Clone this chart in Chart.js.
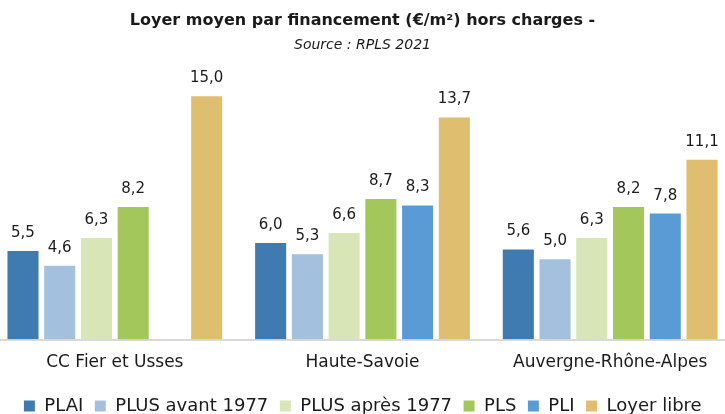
<!DOCTYPE html>
<html lang="fr">
<head>
    <meta charset="UTF-8">
    <title>Loyer moyen par financement</title>
    <script src="https://cdn.jsdelivr.net/npm/chart.js"></script>
    <style>
        body {
            margin: 0;
            padding: 0;
            background: #fff;
            overflow: hidden;
        }

        /* un peu plus large que la fenêtre : les groupes débordent légèrement des bords */
        .chart-box {
            position: relative;
            width: 743px;
            height: 414px;
            margin-left: -9px;
        }
    </style>
</head>
<body>
    <div class="chart-box">
        <canvas id="loyers"></canvas>
    </div>

    <script>
        const territoires = ['CC Fier et Usses', 'Haute-Savoie', 'Auvergne-Rhône-Alpes'];
        const financements = ['PLAI', 'PLUS avant 1977', 'PLUS après 1977', 'PLS', 'PLI', 'Loyer libre'];
        const couleurs = ['#3f7ab1', '#a3c1de', '#d8e6b7', '#a4c75b', '#5b9bd5', '#e0be70'];

        const plai = [5.5, 6.0, 5.6];
        const plusAvant1977 = [4.6, 5.3, 5.0];
        const plusApres1977 = [6.3, 6.6, 6.3];
        const pls = [8.2, 8.7, 8.2];
        const pli = [null, 8.3, 7.8];
        const loyerLibre = [15.0, 13.7, 11.1];

        const series = [plai, plusAvant1977, plusApres1977, pls, pli, loyerLibre];

        const police = '"DejaVu Sans", sans-serif';

        // écrit la valeur au-dessus de chaque barre, virgule décimale
        const etiquettes = {
            id: 'etiquettes',
            afterDatasetsDraw(chart) {
                const ctx = chart.ctx;
                ctx.save();
                ctx.font = '15px ' + police;
                ctx.fillStyle = '#1a1a1a';
                ctx.textAlign = 'center';
                ctx.textBaseline = 'alphabetic';
                chart.data.datasets.forEach((ds, i) => {
                    chart.getDatasetMeta(i).data.forEach((bar, j) => {
                        const v = ds.data[j];
                        if (v === null) return;
                        ctx.fillText(v.toFixed(1).replace('.', ','), bar.x, bar.y - 13);
                    });
                });
                ctx.restore();
            }
        };

        new Chart(document.getElementById('loyers'), {
            type: 'bar',
            data: {
                labels: territoires,
                datasets: series.map((data, i) => ({
                    label: financements[i],
                    data,
                    backgroundColor: couleurs[i],
                    borderColor: '#ffffff',
                    borderWidth: 1,
                    categoryPercentage: 0.89,
                    barPercentage: 0.9
                }))
            },
            options: {
                responsive: true,
                maintainAspectRatio: false,
                animation: false,
                layout: { padding: { left: 0, right: 0, top: 0, bottom: -11 } },
                plugins: {
                    title: {
                        display: true,
                        text: 'Loyer moyen par financement (€/m²) hors charges -',
                        color: '#1a1a1a',
                        font: { family: police, size: 16, weight: 'bold' },
                        padding: { top: 11, bottom: 2 }
                    },
                    subtitle: {
                        display: true,
                        text: 'Source : RPLS 2021',
                        color: '#1a1a1a',
                        font: { family: police, size: 14, style: 'italic' },
                        padding: { top: 5, bottom: 25 }
                    },
                    legend: {
                        position: 'bottom',
                        labels: {
                            color: '#1a1a1a',
                            font: { family: police, size: 18 },
                            boxWidth: 12,
                            boxHeight: 12,
                            padding: 11
                        }
                    },
                    tooltip: { enabled: false }
                },
                scales: {
                    x: {
                        grid: { display: false, drawTicks: false },
                        border: { color: '#d9d9d9', width: 2 },
                        ticks: {
                            color: '#1a1a1a',
                            font: { family: police, size: 17 },
                            padding: 13
                        }
                    },
                    y: {
                        display: false,
                        min: 0,
                        max: 16
                    }
                }
            },
            plugins: [etiquettes]
        });
    </script>
</body>
</html>
